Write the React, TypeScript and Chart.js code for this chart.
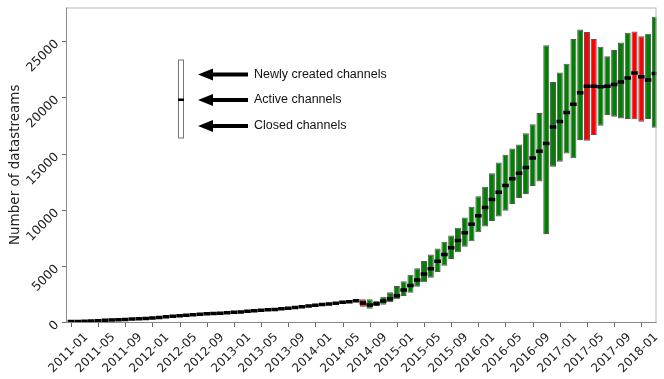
import React, { useEffect, useRef } from 'react';
import { Chart, registerables } from 'chart.js';

Chart.register(...registerables);

const months = [
  '2011-01','2011-02','2011-03','2011-04','2011-05','2011-06','2011-07','2011-08','2011-09','2011-10','2011-11','2011-12',
  '2012-01','2012-02','2012-03','2012-04','2012-05','2012-06','2012-07','2012-08','2012-09','2012-10','2012-11','2012-12',
  '2013-01','2013-02','2013-03','2013-04','2013-05','2013-06','2013-07','2013-08','2013-09','2013-10','2013-11','2013-12',
  '2014-01','2014-02','2014-03','2014-04','2014-05','2014-06','2014-07','2014-08','2014-09','2014-10','2014-11','2014-12',
  '2015-01','2015-02','2015-03','2015-04','2015-05','2015-06','2015-07','2015-08','2015-09','2015-10','2015-11','2015-12',
  '2016-01','2016-02','2016-03','2016-04','2016-05','2016-06','2016-07','2016-08','2016-09','2016-10','2016-11','2016-12',
  '2017-01','2017-02','2017-03','2017-04','2017-05','2017-06','2017-07','2017-08','2017-09','2017-10','2017-11','2017-12',
  '2018-01','2018-02','2018-03',
];

const active = [
  40, 50, 60, 80, 120, 150, 180, 200, 230, 260, 290, 320,
  360, 410, 460, 510, 560, 610, 650, 690, 730, 760, 790, 820,
  860, 900, 950, 1000, 1040, 1080, 1120, 1170, 1220, 1290, 1350, 1420,
  1490, 1550, 1600, 1660, 1750, 1810, 1900, 1700, 1510, 1630, 1870, 2070,
  2340, 2850, 3260, 3740, 4270, 4750, 5400, 6000, 6600, 7250, 7950, 8700,
  9450, 10200, 10900, 11550, 12150, 12750, 13250, 13750, 14600, 15200, 15900, 17350,
  17860, 18660, 19380, 20410, 21000, 21000, 20940, 21000, 21150, 21360, 21720, 22160,
  21830, 21540, 22130,
];

const created = [
  90, 90, 90, 100, 100, 100, 100, 100, 110, 110, 110, 110,
  110, 110, 110, 110, 110, 110, 110, 110, 110, 110, 110, 110,
  120, 120, 120, 120, 120, 120, 120, 120, 120, 120, 130, 130,
  130, 130, 130, 130, 130, 140, 140, 320, 510, 270, 380, 570,
  860, 770, 950, 1040, 1160, 1250, 1150, 1150, 1100, 1150, 1350, 1550,
  1750, 1850, 2350, 2650, 2750, 2700, 2550, 3050, 3000, 3400, 8750, 4010,
  4360, 4330, 5810, 5630, 4810, 4190, 3560, 2670, 3060, 3530, 4030, 3710,
  3620, 4120, 5040,
];

const closed = [
  40, 40, 40, 50, 50, 50, 50, 50, 50, 50, 50, 50,
  60, 60, 60, 60, 60, 60, 60, 60, 60, 60, 60, 60,
  60, 60, 60, 60, 60, 60, 70, 70, 70, 70, 70, 70,
  70, 70, 70, 70, 70, 80, 80, 340, 330, 210, 330, 290,
  320, 540, 650, 600, 720, 800, 950, 1000, 1000, 1050, 1250, 1500,
  1450, 1700, 1900, 2150, 2250, 2250, 2200, 2350, 2500, 2700, 8070, 3530,
  3590, 3650, 4810, 4210, 4860, 4360, 3470, 2580, 2880, 3240, 3650, 4120,
  4000, 3470, 4840,
];

const yTickValues = [0, 5000, 10000, 15000, 20000, 25000];
const xTickLabels = [
  '2011-01','2011-05','2011-09','2012-01','2012-05','2012-09','2013-01','2013-05','2013-09',
  '2014-01','2014-05','2014-09','2015-01','2015-05','2015-09','2016-01','2016-05','2016-09',
  '2017-01','2017-05','2017-09','2018-01',
];
const legendLabels = ['Newly created channels', 'Active channels', 'Closed channels'];
const yTitle = 'Number of datastreams';

const GREEN = '#008000';
const RED = '#ff0000';

const decorPlugin = {
  id: 'decor',
  afterDraw(chart: any) {
    const { ctx, chartArea: a, scales } = chart;
    const xs = scales.x;
    const ys = scales.y;
    ctx.save();

    // frame
    ctx.strokeStyle = '#b8b8b8';
    ctx.lineWidth = 1;
    ctx.strokeRect(a.left + 0.5, a.top + 0.5, a.right - a.left - 1, a.bottom - a.top);
    ctx.strokeStyle = '#8a8a8a';
    ctx.beginPath();
    ctx.moveTo(a.left + 0.5, a.top);
    ctx.lineTo(a.left + 0.5, a.bottom + 0.5);
    ctx.lineTo(a.right, a.bottom + 0.5);
    ctx.stroke();

    // x ticks + labels
    ctx.fillStyle = '#222';
    ctx.font = '12px "DejaVu Sans"';
    ctx.strokeStyle = '#666';
    xTickLabels.forEach((lab) => {
      const idx = months.indexOf(lab);
      const px = Math.round(xs.getPixelForValue(idx)) + 0.5;
      ctx.beginPath();
      ctx.moveTo(px, a.bottom + 1);
      ctx.lineTo(px, a.bottom + 5);
      ctx.stroke();
      ctx.save();
      ctx.translate(px - 3, a.bottom + 31);
      ctx.rotate(-Math.PI / 4);
      ctx.textAlign = 'center';
      ctx.textBaseline = 'middle';
      ctx.fillText(lab, 0, 0);
      ctx.restore();
    });

    // y ticks + labels
    ctx.font = '12.5px "DejaVu Sans"';
    yTickValues.forEach((v) => {
      const py = Math.round(ys.getPixelForValue(v)) + 0.5;
      ctx.beginPath();
      ctx.moveTo(a.left - 4, py);
      ctx.lineTo(a.left, py);
      ctx.stroke();
      ctx.save();
      ctx.translate(a.left - 9, py + 0.5);
      ctx.rotate(-Math.PI / 4);
      ctx.textAlign = 'right';
      ctx.textBaseline = 'middle';
      ctx.fillText(String(v), 0, 0);
      ctx.restore();
    });

    // y title
    ctx.save();
    ctx.font = '13.5px "DejaVu Sans"';
    ctx.fillStyle = '#222';
    ctx.translate(15, (a.top + a.bottom) / 2);
    ctx.rotate(-Math.PI / 2);
    ctx.textAlign = 'center';
    ctx.textBaseline = 'middle';
    ctx.fillText(yTitle, 0, 0);
    ctx.restore();

    // legend box
    const bx = a.left + 112;
    const bTop = a.top + 52;
    const bBot = a.top + 130;
    ctx.fillStyle = '#fff';
    ctx.fillRect(bx, bTop, 6, bBot - bTop);
    ctx.strokeStyle = '#777';
    ctx.strokeRect(bx + 0.5, bTop + 0.5, 5, bBot - bTop);
    ctx.fillStyle = '#000';
    ctx.fillRect(bx, a.top + 91, 6, 2.5);

    // arrows + text
    const ys3 = [a.top + 67, a.top + 92.5, a.top + 118.5];
    ys3.forEach((cy, k) => {
      const tip = a.left + 132;
      ctx.fillStyle = '#000';
      ctx.beginPath();
      ctx.moveTo(tip, cy);
      ctx.lineTo(tip + 15, cy - 6);
      ctx.lineTo(tip + 15, cy + 6);
      ctx.closePath();
      ctx.fill();
      ctx.fillRect(tip + 14, cy - 2, 36, 4);
      ctx.fillStyle = '#111';
      ctx.font = '12.5px "Liberation Sans", Arial, sans-serif';
      ctx.textAlign = 'left';
      ctx.textBaseline = 'middle';
      ctx.fillText(legendLabels[k], tip + 56, cy);
    });

    ctx.restore();
  },
};

export default function App() {
  const ref = useRef<HTMLCanvasElement | null>(null);

  useEffect(() => {
    const canvas = ref.current;
    if (!canvas) return;
    const ranges = months.map((_, i) => ({ x: i, y: [active[i] - closed[i], active[i] + created[i]] }));
    const points = months.map((_, i) => ({ x: i, y: active[i] }));
    const colors = months.map((_, i) => (closed[i] > created[i] ? RED : GREEN));
    const chart = new Chart(canvas, {
      type: 'bar',
      data: {
        datasets: [
          {
            type: 'bar',
            data: ranges as any,
            backgroundColor: colors,
            borderColor: 'rgba(45,45,45,0.8)',
            borderWidth: 1,
            borderSkipped: false,
            barPercentage: 0.88,
            categoryPercentage: 1,
            order: 2,
          } as any,
          {
            type: 'line',
            data: points as any,
            showLine: false,
            pointStyle: 'line',
            pointRadius: 3.3,
            pointBorderWidth: 3.5,
            pointBorderColor: '#000',
            pointBackgroundColor: '#000',
            order: 1,
          } as any,
        ],
      },
      options: {
        animation: false,
        responsive: false,
        layout: { padding: { top: 7, right: 4, left: 0, bottom: 0 } },
        plugins: { legend: { display: false }, tooltip: { enabled: false } },
        scales: {
          x: {
            type: 'linear',
            min: -0.73,
            max: 86.24,
            offset: false,
            grid: { display: false },
            border: { display: false },
            ticks: { display: false },
            afterFit: (s: any) => { s.height = 57; },
          },
          y: {
            min: 0,
            max: 28000,
            grid: { display: false },
            border: { display: false },
            ticks: { display: false, stepSize: 5000 },
            afterFit: (s: any) => { s.width = 66; },
          },
        },
      },
      plugins: [decorPlugin],
    });
    return () => chart.destroy();
  }, []);

  return (
    <div style={{ position: 'absolute', left: 0, top: 0, width: 664, height: 379, background: '#fff' }}>
      <canvas ref={ref} width={664} height={379} />
    </div>
  );
}
